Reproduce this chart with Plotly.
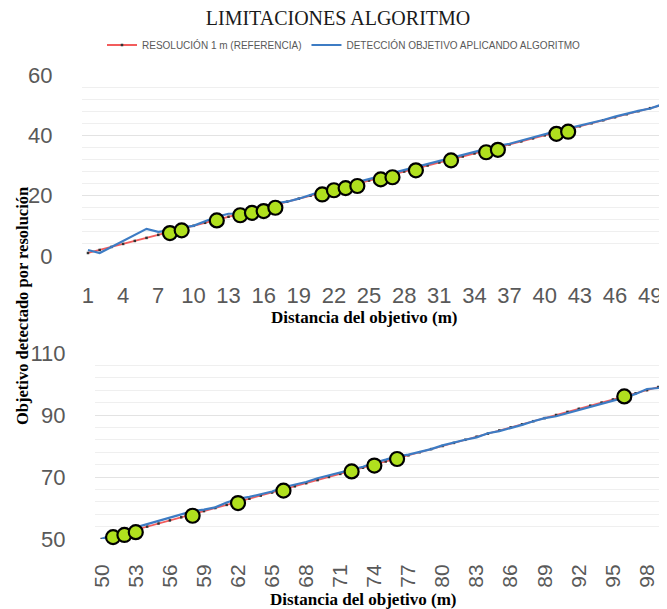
import plotly.graph_objects as go

# ---------------- DATA ----------------
top_x = list(range(1, 51))
top_ref = list(range(1, 51))
top_det = [2, 1, 3, 5, 7, 9, 8, 8.5, 9.5, 10,
           11.5, 13, 14, 14, 15, 16.5, 17.5, 18, 19, 20.3,
           21.5, 22.5, 23.5, 24.5, 25.5, 26.5, 27.5, 28.5, 29.5, 30.5,
           31.5, 32.5, 33.5, 34.5, 35.5, 36.5, 37.2, 38.3, 39.3, 40.4,
           41.4, 42.3, 43.2, 44.2, 45.1, 46.2, 47.2, 48.1, 48.9, 50.2]
top_mark_x = [8, 9, 12, 14, 15, 16, 17, 21, 22, 23, 24, 26, 27, 29, 32, 35, 36, 41, 42]
top_mark_y = [7.6, 8.5, 11.8, 13.5, 14.3, 14.9, 16.0, 20.4, 21.8, 22.5, 23.2,
              25.4, 26.1, 28.4, 31.7, 34.4, 35.2, 40.5, 41.2]

bot_x = list(range(50, 101))
bot_ref = list(range(50, 101))
bot_det = [50, 51.5, 52.5, 53.8, 54.8, 55.8, 56.8, 57.8, 59, 59.5,
           60.2, 61.8, 63, 63.6, 64.4, 65.3, 66.7, 67.5, 68.4, 69.6,
           70.6, 71.5, 72.4, 73.3, 74.6, 75.6, 76.7, 77.2, 78.1, 79,
           80.2, 81.2, 82, 82.8, 84.1, 84.8, 85.7, 86.8, 88, 89,
           89.6, 90.6, 91.6, 92.6, 93.6, 94.5, 95.6, 96.8, 98.4, 98.7, 100.5]
bot_mark_x = [51, 52, 53, 58, 62, 66, 72, 74, 76, 96]
bot_mark_y = [50.6, 51.3, 52.2, 57.5, 61.6, 65.6, 71.8, 73.7, 75.8, 96.0]

top_xticks = list(range(1, 50, 3))
bot_xticks = list(range(50, 99, 3))
top_yticks = [0, 20, 40, 60]
bot_yticks = [50, 70, 90, 110]

# ---------------- STYLE ----------------
W, H = 667, 609
OFF = 8  # page body margin of the browser
RED = "#F25C5C"
BLUE = "#3D7CC4"
GREEN = "#B0E01E"
GRID = "#E3E3E3"
MINOR = "#EFEFEF"
TICKFONT = dict(family="Liberation Sans", size=22, color="#595959")

def px_x(p):
    return (p - OFF) / W

def px_y(p):
    return 1 - (p - OFF) / H

fig = go.Figure()

# top chart
fig.add_trace(go.Scatter(x=top_x, y=top_ref, mode="lines+markers",
                         name="RESOLUCIÓN 1 m (REFERENCIA)",
                         line=dict(color=RED, width=1.8),
                         marker=dict(color="#333333", size=2.5, symbol="square"),
                         xaxis="x", yaxis="y"))
fig.add_trace(go.Scatter(x=top_x, y=top_det, mode="lines",
                         name="DETECCIÓN OBJETIVO APLICANDO ALGORITMO",
                         line=dict(color=BLUE, width=2.2),
                         xaxis="x", yaxis="y"))
fig.add_trace(go.Scatter(x=top_mark_x, y=top_mark_y, mode="markers", showlegend=False,
                         marker=dict(color=GREEN, size=14, line=dict(color="black", width=2.2)),
                         cliponaxis=False, xaxis="x", yaxis="y"))

# bottom chart
fig.add_trace(go.Scatter(x=bot_x, y=bot_ref, mode="lines+markers", showlegend=False,
                         line=dict(color=RED, width=1.8),
                         marker=dict(color="#333333", size=2.5, symbol="square"),
                         xaxis="x2", yaxis="y2"))
fig.add_trace(go.Scatter(x=bot_x, y=bot_det, mode="lines", showlegend=False,
                         line=dict(color=BLUE, width=2.2),
                         xaxis="x2", yaxis="y2"))
fig.add_trace(go.Scatter(x=bot_mark_x, y=bot_mark_y, mode="markers", showlegend=False,
                         marker=dict(color=GREEN, size=14, line=dict(color="black", width=2.2)),
                         cliponaxis=False, xaxis="x2", yaxis="y2"))

fig.update_layout(
    width=W, height=H,
    margin=dict(l=0, r=0, t=0, b=0, autoexpand=False),
    paper_bgcolor="white", plot_bgcolor="white",
    title=dict(text="LIMITACIONES ALGORITMO", x=px_x(338), xanchor="center",
               y=px_y(18), yanchor="middle",
               font=dict(family="Liberation Serif", size=20, color="#1a1a1a")),
    legend=dict(orientation="h", x=px_x(344), xanchor="center", y=px_y(45), yanchor="middle",
                font=dict(family="Liberation Sans", size=10, color="#595959"),
                bgcolor="rgba(0,0,0,0)", itemwidth=30, tracegroupgap=0),
    xaxis=dict(domain=[px_x(82), px_x(667)], range=[0.49, 50.44], tickmode="array",
               tickvals=top_xticks, ticktext=[str(v) for v in top_xticks],
               showgrid=False, zeroline=False, showline=False, automargin=False,
               ticks="outside", ticklen=20, tickcolor="rgba(0,0,0,0)",
               tickfont=TICKFONT, anchor="y"),
    yaxis=dict(domain=[px_y(256), px_y(75)], range=[0, 60], tickmode="array",
               tickvals=top_yticks, showgrid=True, gridcolor=GRID, gridwidth=1.2,
               zeroline=False, showline=False, automargin=False,
               minor=dict(tickmode="linear", tick0=0, dtick=4, showgrid=True,
                          gridcolor=MINOR, gridwidth=1),
               ticks="outside", ticklen=24, tickcolor="rgba(0,0,0,0)",
               tickfont=TICKFONT, anchor="x"),
    xaxis2=dict(domain=[px_x(95), px_x(667)], range=[49.41, 99.76], tickmode="array",
                tickvals=bot_xticks, ticktext=[str(v) for v in bot_xticks],
                tickangle=-90, automargin=False,
                showgrid=False, zeroline=False, showline=False,
                ticks="outside", ticklen=16, tickcolor="rgba(0,0,0,0)",
                tickfont=dict(family="Liberation Sans", size=21, color="#595959"),
                anchor="y2"),
    yaxis2=dict(domain=[px_y(539), px_y(353)], range=[50, 110], tickmode="array",
                tickvals=bot_yticks, showgrid=True, gridcolor=GRID, gridwidth=1.2,
                zeroline=False, showline=False, automargin=False,
                minor=dict(tickmode="linear", tick0=50, dtick=4, showgrid=True,
                           gridcolor=MINOR, gridwidth=1),
                ticks="outside", ticklen=24, tickcolor="rgba(0,0,0,0)",
                tickfont=TICKFONT, anchor="x2"),
)

xtitle_font = dict(family="Liberation Serif", size=17, color="black")
ytitle_font = dict(family="Liberation Serif", size=16.5, color="black")
fig.add_annotation(text="<b>Distancia del objetivo (m)</b>", xref="paper", yref="paper",
                   x=px_x(364), y=px_y(317), xanchor="center", yanchor="middle",
                   showarrow=False, font=xtitle_font)
fig.add_annotation(text="<b>Distancia del objetivo (m)</b>", xref="paper", yref="paper",
                   x=px_x(363), y=px_y(599), xanchor="center", yanchor="middle",
                   showarrow=False, font=xtitle_font)
fig.add_annotation(text="<b>Objetivo detectado por resolución</b>", xref="paper", yref="paper",
                   x=px_x(22), y=px_y(306), xanchor="center", yanchor="middle",
                   textangle=-90, showarrow=False, font=ytitle_font)

fig.write_html("out.html")
